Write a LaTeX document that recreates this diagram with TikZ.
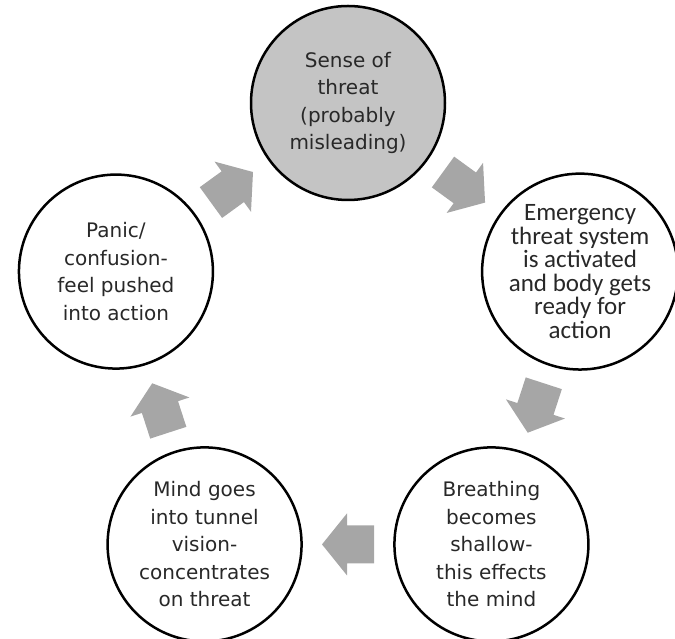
\documentclass[tikz,border=0pt]{standalone}
\usepackage{fontspec}
\usetikzlibrary{calc}
\newfontfamily\comicfont{DejaVu Sans}
\newfontfamily\calibrifont{Carlito}
\definecolor{arrowgray}{RGB}{166,166,166}
\definecolor{topgray}{RGB}{196,196,196}
\definecolor{textgray}{RGB}{40,40,40}
\tikzset{
  circ/.style={circle, draw=black, line width=2.5pt, minimum size=194pt, inner sep=0pt,
    align=center, text=textgray, font=\comicfont\fontsize{20}{27.5}\selectfont},
  circcal/.style={circ, font=\calibrifont\fontsize{25}{23.6}\selectfont},
  blockarrow/.pic={\fill[arrowgray] (26,0) -- (1,31) -- (1,19) -- (-26,19) -- (-26,-19) -- (1,-19) -- (1,-31) -- cycle;}
}
\begin{document}
\begin{tikzpicture}[x=1pt,y=1pt]
\useasboundingbox (0,0) rectangle (675,639);
\coordinate (O) at (348,292);
\node[circ, fill=topgray] (T) at ($(O)+(90:244pt)$) {Sense of\\threat\\(probably\\misleading)};
\node[circcal] (R) at ($(O)+(18:244pt)$) {Emergency\\threat system\\is activated\\and body gets\\ready for\\action};
\node[circ] (BR) at ($(O)+(-54:244pt)$) {Breathing\\becomes\\shallow-\\this effects\\the mind};
\node[circ] (BL) at ($(O)+(-126:244pt)$) {Mind goes\\into tunnel\\vision-\\concentrates\\on threat};
\node[circ] (L) at ($(O)+(162:244pt)$) {Panic/\\confusion-\\feel pushed\\into action};
\coordinate (m1) at ($(T)!0.5!(R)$);
\coordinate (m2) at ($(R)!0.5!(BR)$);
\coordinate (m3) at ($(BR)!0.5!(BL)$);
\coordinate (m4) at ($(BL)!0.5!(L)$);
\coordinate (m5) at ($(L)!0.5!(T)$);
\pic[rotate=-36] at (m1) {blockarrow};
\pic[rotate=-108] at (m2) {blockarrow};
\pic[rotate=180] at (m3) {blockarrow};
\pic[rotate=108] at (m4) {blockarrow};
\pic[rotate=36] at (m5) {blockarrow};
\end{tikzpicture}
\end{document}
